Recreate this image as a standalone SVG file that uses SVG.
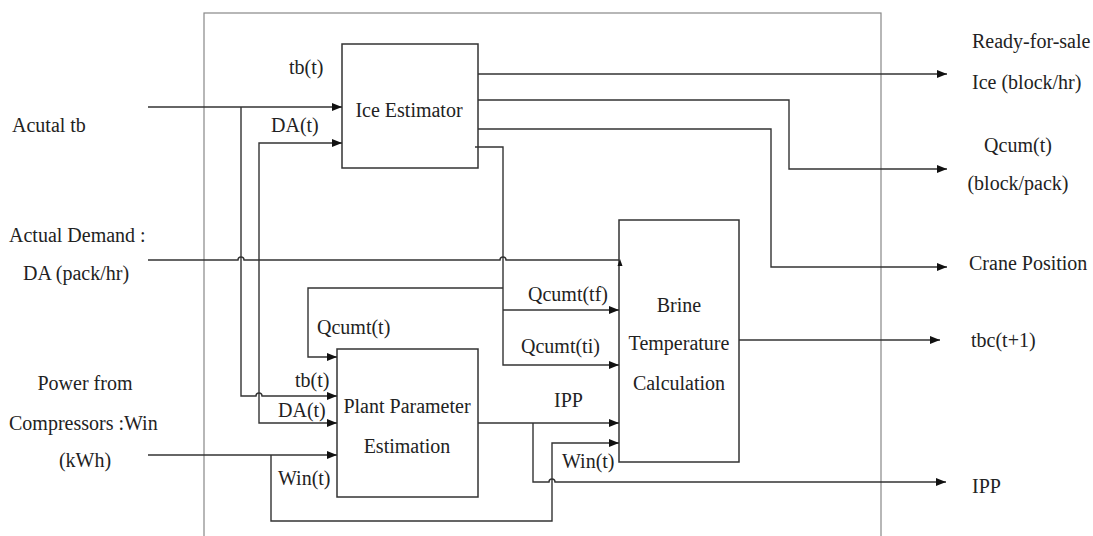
<svg xmlns="http://www.w3.org/2000/svg" width="1093" height="536" viewBox="0 0 1093 536" font-family="'Liberation Serif', 'DejaVu Serif', serif">
  <style>
    text { font-family: 'Liberation Serif', 'Tinos', 'DejaVu Serif', serif; font-size: 20px; fill: #222; }
    .mid { text-anchor: middle; }
    .box { fill: none; stroke: #333; stroke-width: 1.5; }
    .frame { fill: none; stroke: #888; stroke-width: 1.2; }
    .wire { fill: none; stroke: #333; stroke-width: 1.4; }
    .head { fill: #111; }
  </style>
  <defs>
    <marker id="arr" viewBox="0 0 10 8" refX="10" refY="4" markerWidth="10" markerHeight="8" markerUnits="userSpaceOnUse" orient="auto">
      <path d="M0,0 L10,4 L0,8 z" fill="#111"/>
    </marker>
  </defs>

  <rect x="0" y="0" width="1093" height="536" fill="#fff"/>

  <!-- system boundary -->
  <rect class="frame" x="204" y="13" width="677" height="540"/>

  <!-- external inputs -->
  <g id="inputs">
    <text x="12" y="132">Acutal tb</text>
    <text x="9" y="242">Actual Demand :</text>
    <text x="23" y="280">DA (pack/hr)</text>
    <text x="85" y="390" class="mid">Power from</text>
    <text x="9" y="430">Compressors :Win</text>
    <text x="85" y="467" class="mid">(kWh)</text>
  </g>

  <!-- external outputs -->
  <g id="outputs">
    <text x="972" y="48">Ready-for-sale</text>
    <text x="972" y="89">Ice (block/hr)</text>
    <text x="1018" y="152" class="mid">Qcum(t)</text>
    <text x="1018" y="190" class="mid">(block/pack)</text>
    <text x="969" y="270">Crane Position</text>
    <text x="971" y="347">tbc(t+1)</text>
    <text x="972" y="493">IPP</text>
  </g>

  <g id="ice-estimator">
    <rect class="box" x="342" y="44" width="136" height="124"/>
    <text x="409" y="117" class="mid">Ice Estimator</text>
  </g>

  <g id="plant-parameter-estimation">
    <rect class="box" x="337" y="349" width="141" height="148"/>
    <text x="407" y="413" class="mid">Plant Parameter</text>
    <text x="407" y="453" class="mid">Estimation</text>
  </g>

  <g id="brine-temperature-calculation">
    <rect class="box" x="619" y="220" width="120" height="242"/>
    <text x="679" y="312" class="mid">Brine</text>
    <text x="679" y="350" class="mid">Temperature</text>
    <text x="679" y="390" class="mid">Calculation</text>
  </g>

  <g id="connectors">
    <!-- tb input and its branch to plant parameter estimation -->
    <path class="wire" d="M148,107 H342" marker-end="url(#arr)"/>
    <path class="wire" d="M241,107 V396 H256 A3,3 0 0 1 262,396 H337" marker-end="url(#arr)"/>
    <!-- demand input with line hops -->
    <path class="wire" d="M148,260 H238 A3,3 0 0 1 244,260 H500 A3,3 0 0 1 506,260 H619"/>
    <path class="head" d="M617.5,266 L620,259 L622.5,266 z"/>
    <path class="wire" d="M259,260 V143 H342" marker-end="url(#arr)"/>
    <path class="wire" d="M259,260 V423 H337" marker-end="url(#arr)"/>
    <!-- compressor power input and its loop to brine calculation -->
    <path class="wire" d="M148,455 H337" marker-end="url(#arr)"/>
    <path class="wire" d="M271,455 V521 H552 V443 H619" marker-end="url(#arr)"/>
    <!-- IPP -->
    <path class="wire" d="M478,423 H619" marker-end="url(#arr)"/>
    <path class="wire" d="M533,423 V482 H549 A3,3 0 0 1 555,482 H946" marker-end="url(#arr)"/>
    <!-- ice estimator outputs -->
    <path class="wire" d="M478,74 H947" marker-end="url(#arr)"/>
    <path class="wire" d="M478,100 H789 V169 H947" marker-end="url(#arr)"/>
    <path class="wire" d="M478,129 H771 V267 H947" marker-end="url(#arr)"/>
    <!-- cumulative ice feedback -->
    <path class="wire" d="M475,147 H503 V365 H619" marker-end="url(#arr)"/>
    <path class="wire" d="M503,310 H619" marker-end="url(#arr)"/>
    <path class="wire" d="M503,288 H308 V357 H337" marker-end="url(#arr)"/>
    <!-- brine temperature output -->
    <path class="wire" d="M739,340 H940" marker-end="url(#arr)"/>
  </g>

  <g id="signal-labels">
    <text x="289" y="74">tb(t)</text>
    <text x="271" y="132">DA(t)</text>
    <text x="317" y="334">Qcumt(t)</text>
    <text x="295" y="387">tb(t)</text>
    <text x="278" y="417">DA(t)</text>
    <text x="278" y="485">Win(t)</text>
    <text x="528" y="301">Qcumt(tf)</text>
    <text x="521" y="353">Qcumt(ti)</text>
    <text x="554" y="407">IPP</text>
    <text x="562" y="468">Win(t)</text>
  </g>
</svg>
